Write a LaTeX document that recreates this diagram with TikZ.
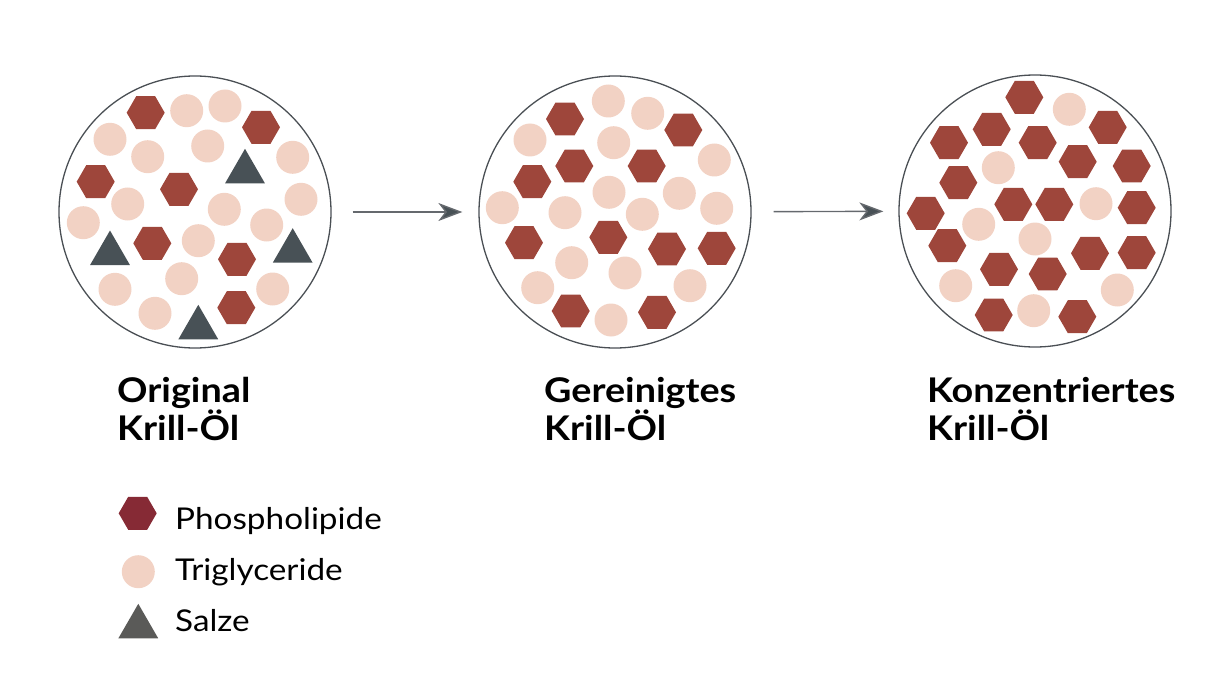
\documentclass[tikz,border=0pt]{standalone}
\usepackage{fontspec}
\setmainfont{Lato}[FakeStretch=1.11]
\usetikzlibrary{shapes.geometric,arrows.meta}
\definecolor{hexrot}{HTML}{9E463B}
\definecolor{lachs}{HTML}{F2D2C4}
\definecolor{salzgrau}{HTML}{485156}
\definecolor{legrot}{HTML}{862A35}
\definecolor{leggrau}{HTML}{5A5A58}
\definecolor{rand}{HTML}{4A4F54}
\tikzset{
  phos/.style={regular polygon, regular polygon sides=6, minimum size=38pt,
    inner sep=0pt, outer sep=0pt, fill=hexrot},
  trig/.style={circle, minimum size=33pt, inner sep=0pt, fill=lachs},
  salz/.style={regular polygon, regular polygon sides=3, minimum size=46pt,
    inner sep=0pt, fill=salzgrau},
  kreis/.style={circle, draw=rand, line width=1.3pt, minimum size=272pt, inner sep=0pt},
  pfeil/.style={draw=rand!85, line width=1.4pt,
    -{Stealth[length=24pt, width=18pt, inset=7pt, fill=salzgrau]}},
  titel/.style={anchor=base west, inner sep=0pt,
    font=\fontsize{34}{38}\selectfont\bfseries},
  legtext/.style={anchor=base west, inner sep=0pt,
    font=\fontsize{30}{34}\selectfont}
}
\begin{document}
\begin{tikzpicture}[x=1pt, y=-1pt]
    \useasboundingbox (0,0) rectangle (1228,695);

    % die drei Proben
    \node[kreis] (k1) at (195, 212) {};
    \node[kreis] (k2) at (615, 212) {};
    \node[kreis] (k3) at (1035, 211) {};

    % original
    \foreach \x/\y [count=\i] in {145.7/112.7, 261/127.3, 95.7/181.7, 179/189.3,
        152.3/243.3, 237/259.3, 236.3/307.7}
        \node[phos] (a-p\i) at (\x, \y) {};
    \foreach \x/\y [count=\i] in {186.7/110.7, 225/106, 110/139.3, 147.7/156.7,
        207.7/146, 292.7/157.3, 301/199.3, 127.7/204, 83.3/222.7, 224.3/209.3,
        266.7/225, 198.3/240.7, 181.7/278.7, 115/289.3, 155/313.3, 272.7/289}
        \node[trig] (a-t\i) at (\x, \y) {};
    \foreach \x/\y [count=\i] in {245/171.8, 110/253.5, 292.7/251.2, 198.3/327.8}
        \node[salz] (a-s\i) at (\x, \y) {};

    % gereinigt
    \foreach \x/\y [count=\i] in {565/119, 683.3/130, 574.3/166, 646.7/166,
        532.3/181.7, 608.3/237.3, 524/242.7, 667/249, 716.7/248.3, 570.7/311,
        657/312.3}
        \node[phos] (b-p\i) at (\x, \y) {};
    \foreach \x/\y [count=\i] in {608.3/101, 647.7/113.3, 530/140, 613.7/142.7,
        714.3/160, 609/192.3, 679.3/193.3, 502.3/207.7, 565/212.7, 642.3/214.3,
        716.7/208.3, 571.7/262.7, 625/273, 537.7/287.7, 690/285.7, 611/320}
        \node[trig] (b-t\i) at (\x, \y) {};

    % konzentriert
    \foreach \x/\y [count=\i] in {1024.3/97.3, 991.7/129.3, 949/142.7,
        1037.7/142.7, 1107.7/127.3, 1077.7/161.7, 1131.7/166, 958.3/182.7,
        1013.3/204.3, 1054.3/204.3, 1136.7/207.7, 925.7/213.3, 947.3/245.7,
        1090/253.3, 1136.7/252.7, 999/269.3, 1047.7/274, 993.7/315, 1077.3/316.7}
        \node[phos] (c-p\i) at (\x, \y) {};
    \foreach \x/\y [count=\i] in {1069.3/109.3, 998.3/167.7, 1096/203.7,
        978.7/224.3, 1035/239, 955.7/285.7, 1117.3/290, 1033.7/310.7}
        \node[trig] (c-t\i) at (\x, \y) {};

    \draw[pfeil, shorten <=21pt, shorten >=16pt] (k1) -- (k2);
    \draw[pfeil, shorten <=22pt, shorten >=15pt] (k2) -- (k3);

    \node[titel] (t1a) at (117, 402.5) {Original};
    \node[titel] (t1b) at (117, 440) {Krill-Öl};
    \node[titel] (t2a) at (544, 402.5) {Gereinigtes};
    \node[titel] (t2b) at (544, 440) {Krill-Öl};
    \node[titel] (t3a) at (927, 402.5) {Konzentriertes};
    \node[titel] (t3b) at (927, 440) {Krill-Öl};

    % Legende
    \node[phos, fill=legrot] (l-p) at (137.7, 513.3) {};
    \node[trig] (l-t) at (138.3, 571.7) {};
    \node[salz, fill=leggrau] (l-s) at (138.3, 626.8) {};
    \node[legtext] (l-pt) at (175, 529) {Phospholipide};
    \node[legtext] (l-tt) at (175, 580) {Triglyceride};
    \node[legtext] (l-st) at (175, 631.7) {Salze};
\end{tikzpicture}
\end{document}
